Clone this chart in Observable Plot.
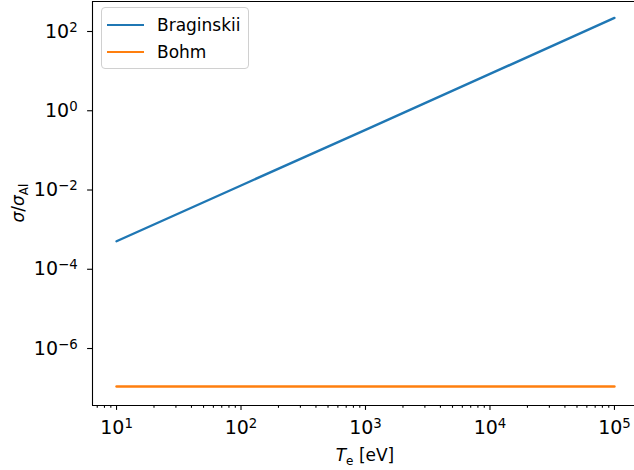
<!DOCTYPE html>
<html><head><meta charset="utf-8">
<script src="https://cdn.jsdelivr.net/npm/d3@7"></script>
<script src="https://cdn.jsdelivr.net/npm/@observablehq/plot@0.6"></script>
<style>
body{margin:0;background:#fff;}
#wrap{position:relative;width:634px;height:470px;font-family:"DejaVu Sans",sans-serif;color:#000;overflow:hidden;}
.legend{position:absolute;left:101px;top:7px;width:148px;height:62px;border:1px solid #d0d0d0;border-radius:4px;background:rgba(255,255,255,0.8);box-sizing:border-box;}
.row{position:absolute;left:0;height:20px;width:100%;}
.sw{position:absolute;left:5px;top:9px;width:37px;height:2.4px;}
.lab{position:absolute;left:55px;top:0;line-height:20px;font-size:17px;white-space:nowrap;}
</style></head><body><div id="wrap"></div><script>
// Data
const temperature = [10, 100, 1000, 10000, 100000];          // T_e [eV]
const braginskii  = [5.1e-4, 1.3e-2, 0.33, 8.5, 220];       // sigma / sigma_Al
const bohm        = [1.1e-7, 1.1e-7, 1.1e-7, 1.1e-7, 1.1e-7];
const seriesNames = ["Braginskii", "Bohm"];
const seriesColors = ["#1f77b4", "#ff7f0e"];
const xMajorTicks = [1e1, 1e2, 1e3, 1e4, 1e5];
const yMajorTicks = [1e-6, 1e-4, 1e-2, 1e0, 1e2];

const xDomain = [10 ** 0.807, 10 ** 5.161];
const yDomain = [10 ** -7.438, 10 ** 2.757];

const rows = [];
temperature.forEach((t, i) => {
  rows.push({T: t, v: braginskii[i], s: seriesNames[0]});
  rows.push({T: t, v: bohm[i], s: seriesNames[1]});
});

const xMinor = [];
for (let e = 0; e <= 5; e++) for (let m = 2; m <= 9; m++) {
  const v = m * 10 ** e;
  if (v > xDomain[0] && v < xDomain[1]) xMinor.push(v);
}
const sup = (v) => "10^" + Math.round(Math.log10(v));

const chart = Plot.plot({
  width: 634, height: 470,
  marginLeft: 92, marginRight: 0, marginTop: 1, marginBottom: 65,
  style: {fontFamily: "DejaVu Sans", fontSize: "17px", color: "#000", background: "#fff"},
  x: {type: "log", domain: xDomain, axis: null},
  y: {type: "log", domain: yDomain, axis: null},
  color: {domain: seriesNames, range: seriesColors},
  marks: [
    Plot.axisX({ticks: xMinor, tickSize: 2.8, tickFormat: () => "", strokeWidth: 1.1, label: null}),
    Plot.axisX({ticks: xMajorTicks, tickSize: 4.9, tickPadding: 10, fontSize: 19, tickFormat: sup, strokeWidth: 1.1, label: null}),
    Plot.axisY({ticks: yMajorTicks, tickSize: 4.9, tickPadding: 10, fontSize: 19, tickFormat: sup, strokeWidth: 1.1, label: null}),
    Plot.line(rows, {x: "T", y: "v", stroke: "s", strokeWidth: 2.4, z: "s"}),
    Plot.ruleX([xDomain[0]], {stroke: "#000", strokeWidth: 1.1}),
    Plot.ruleY([yDomain[0], yDomain[1]], {stroke: "#000", strokeWidth: 1.1})
  ]
});

const wrap = document.getElementById("wrap");
wrap.appendChild(chart);
const svg = d3.select(chart);

// superscript exponents in tick labels
svg.selectAll('g[aria-label$="tick label"] text').each(function() {
  const t = this.textContent;
  if (!t.includes("^")) return;
  const [b, e] = t.split("^");
  const el = d3.select(this);
  el.attr("font-size", 19).style("font-size", "19px");
  el.text("");
  el.append("tspan").text(b);
  el.append("tspan").attr("dy", "-0.45em").attr("font-size", "0.7em").text(e.replace("-", "\u2212"));
});

// axis labels
const xl = svg.append("text").attr("x", 365).attr("y", 461).attr("text-anchor", "middle")
  .attr("font-family", "DejaVu Sans").attr("font-size", 17).attr("fill", "#000");
xl.append("tspan").attr("font-style", "italic").text("T");
xl.append("tspan").attr("font-size", 12).attr("dy", 4).text("e");
xl.append("tspan").attr("dy", -4).text(" [eV]");

const yl = svg.append("text").attr("transform", "translate(24,203) rotate(-90)").attr("text-anchor", "middle")
  .attr("font-family", "DejaVu Sans").attr("font-size", 17).attr("fill", "#000");
yl.append("tspan").attr("font-style", "italic").text("\u03c3");
yl.append("tspan").text("/");
yl.append("tspan").attr("font-style", "italic").text("\u03c3");
yl.append("tspan").attr("font-size", 12).attr("dy", 4).text("Al");

// legend
const leg = document.createElement("div");
leg.className = "legend";
seriesNames.forEach((n, i) => {
  const r = document.createElement("div");
  r.className = "row";
  r.style.top = (7 + i * 27) + "px";
  r.innerHTML = `<div class="sw" style="background:${seriesColors[i]}"></div><div class="lab">${n}</div>`;
  leg.appendChild(r);
});
wrap.appendChild(leg);
</script></body></html>
